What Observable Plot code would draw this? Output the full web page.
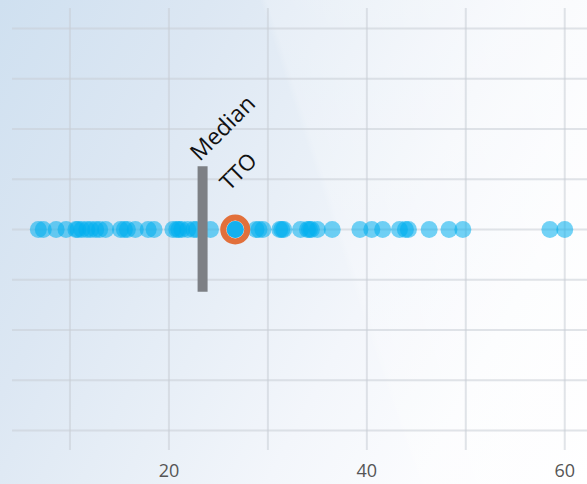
<!DOCTYPE html>
<html>
<head>
<meta charset="utf-8">
<script src="https://cdn.jsdelivr.net/npm/d3@7"></script>
<script src="https://cdn.jsdelivr.net/npm/@observablehq/plot@0.6"></script>
<style>
  html, body { margin: 0; padding: 0; }
  body {
    width: 587px; height: 484px; overflow: hidden;
    background:
      linear-gradient(72deg, rgba(255,255,255,0) 0%, rgba(255,255,255,0) 56%, rgba(255,255,255,0.2) 57%, rgba(255,255,255,0.5) 100%),
      linear-gradient(118deg, #cfe0f0 0%, #dce7f3 25%, #e8eff7 45%, #f3f6fb 62%, #fbfcfe 80%, #ffffff 100%);
    font-family: "Open Sans", Lato, sans-serif;
  }
  svg { display: block; background: transparent !important; }
</style>
</head>
<body>
<div id="chart"></div>
<script>
const values = [6.8, 7.3, 8.6, 9.6, 10.6, 10.8, 11.2, 11.7, 12.1, 12.6, 13.0, 13.6,
  15.1, 15.5, 15.8, 16.6, 17.9, 18.5, 20.4, 20.8, 21.0, 21.3, 21.9, 22.5, 22.8, 24.2,
  26.7, 28.8, 29.1, 29.5, 31.2, 31.4, 31.6, 33.3, 34.0, 34.2, 34.4, 35.0, 36.5,
  39.3, 40.5, 41.6, 43.3, 43.9, 44.2, 46.3, 48.3, 49.7, 58.5, 60.0];
const ttoValue = 26.7;
const medianValue = 23.4;
const gridTicks = [10, 20, 30, 40, 50, 60];
const labelTicks = [20, 40, 60];
const rowTicks = [-4, -3, -2, -1, 0, 1, 2, 3, 4];

const points = values.map(v => ({x: v, y: 0}));

const chart = Plot.plot({
  width: 587,
  height: 484,
  marginLeft: 12,
  marginRight: 0,
  marginTop: 8,
  marginBottom: 34,
  style: {background: "transparent", fontFamily: "'Open Sans', Lato, sans-serif"},
  x: {domain: [4.19, 62.3], label: null},
  y: {domain: [-4.4, 4.4], axis: null, label: null},
  marks: [
    Plot.gridX(gridTicks, {stroke: "#c9ced6", strokeOpacity: 0.55, strokeWidth: 2}),
    Plot.gridY(rowTicks, {stroke: "#c9ced6", strokeOpacity: 0.55, strokeWidth: 2}),
    Plot.axisX(labelTicks, {tickSize: 0, tickPadding: 14, fontSize: 18, fill: "#555", label: null, tickFormat: d => String(d)}),
    Plot.dot(points, {x: "x", y: "y", r: 8.5, fill: "#00aeef", fillOpacity: 0.55, stroke: "none"}),
    Plot.ruleX([medianValue], {y1: -1.25, y2: 1.25, stroke: "#7d8085", strokeWidth: 10}),
    Plot.dot([ttoValue], {x: d => d, y: 0, r: 8.5, fill: "#14b0ee", stroke: "none"}),
    Plot.dot([ttoValue], {x: d => d, y: 0, r: 12, fill: "none", stroke: "#e2703b", strokeWidth: 6}),
    Plot.text(["Median"], {x: medianValue, y: 1.25, text: d => d, rotate: -45, textAnchor: "start", fontSize: 23, fill: "#111", dx: -8, dy: -10}),
    Plot.text(["TTO"], {x: ttoValue, y: 0, text: d => d, rotate: -45, textAnchor: "start", fontSize: 22, fill: "#111", dx: -11, dy: -43})
  ]
});
document.getElementById("chart").appendChild(chart);
</script>
</body>
</html>
